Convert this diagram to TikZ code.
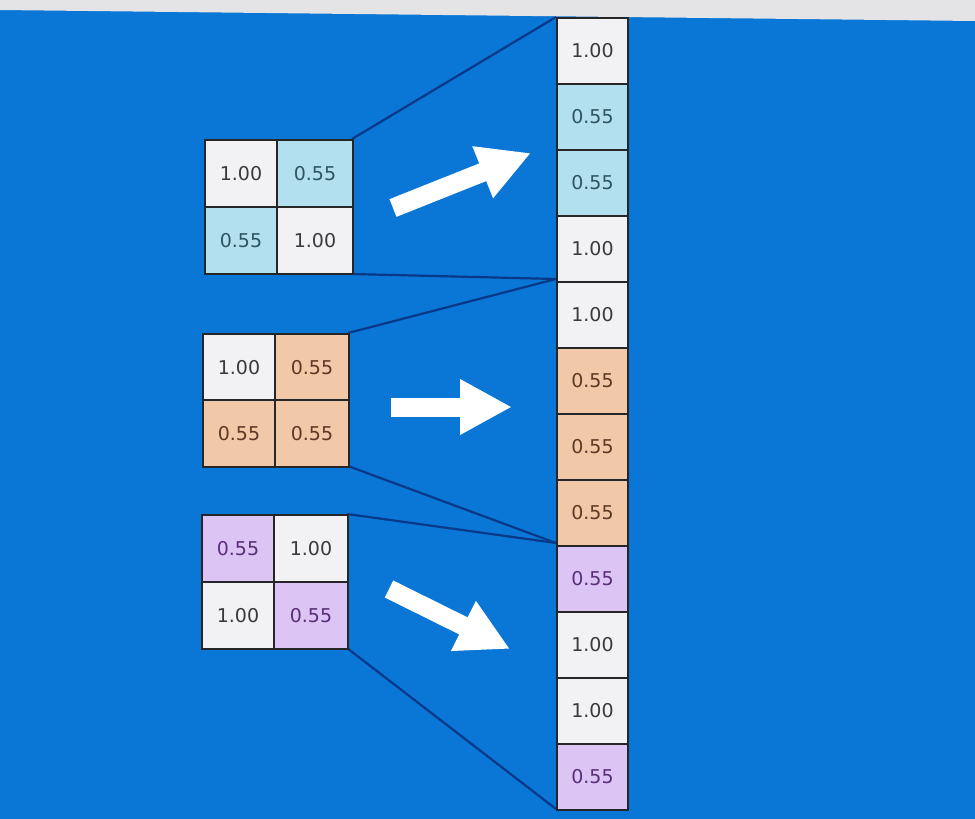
\documentclass[tikz,border=0pt]{standalone}
\usepackage{fontspec}
\setmainfont{DejaVu Sans}
\usetikzlibrary{arrows.meta}
\definecolor{bgblue}{HTML}{0A76D6}
\definecolor{bar}{HTML}{E4E4E6}
\definecolor{cw}{HTML}{F2F2F5}
\definecolor{cb}{HTML}{B2E0EE}
\definecolor{co}{HTML}{F1C8A8}
\definecolor{cp}{HTML}{DCC4F4}
\definecolor{tw}{HTML}{3A3A3A}
\definecolor{tb}{HTML}{2E5560}
\definecolor{to}{HTML}{5C3A25}
\definecolor{tp}{HTML}{5A2E78}
\definecolor{navy}{HTML}{083888}
\tikzset{
  cellbox/.style={draw=black!85, line width=2pt, inner sep=0pt, anchor=north west,
    font=\fontsize{19}{21}\selectfont},
  mcell/.style={cellbox, minimum width=72pt, minimum height=67pt},
  vcell/.style={cellbox, minimum width=71pt, minimum height=66pt},
  wc/.style={fill=cw, text=tw},
  bc/.style={fill=cb, text=tb},
  oc/.style={fill=co, text=to},
  pc/.style={fill=cp, text=tp},
  link/.style={draw=navy, line width=2.2pt},
  bigarrow/.style={draw=white, line width=19pt, -{Triangle[length=52pt,width=52pt]}}
}
\begin{document}
\begin{tikzpicture}[x=1pt,y=-1pt]
\useasboundingbox (0,0) rectangle (975,819);
\fill[bgblue] (0,0) rectangle (975,819);
\fill[bar] (0,0) -- (975,0) -- (975,21) -- (0,10) -- cycle;
% link end points
\coordinate (m1tr) at (352,139);
\coordinate (m1br) at (352,274);
\coordinate (m2tr) at (348,333);
\coordinate (m2br) at (348,466);
\coordinate (m3tr) at (347,514);
\coordinate (m3br) at (347,648);
\coordinate (k0) at (556,17);
\coordinate (k1) at (556,279);
\coordinate (k2) at (556,543);
\coordinate (k3) at (556,809);
\draw[link] (m1tr) -- (k0);
\draw[link] (m1br) -- (k1);
\draw[link] (m2tr) -- (k1);
\draw[link] (m2br) -- (k2);
\draw[link] (m3tr) -- (k2);
\draw[link] (m3br) -- (k3);
% matrix 1
\node[mcell,wc] (a11) at (204,139) {1.00};
\node[mcell,bc,minimum width=76pt] (a12) at (276,139) {0.55};
\node[mcell,bc] (a21) at (204,206) {0.55};
\node[mcell,wc,minimum width=76pt] (a22) at (276,206) {1.00};
% matrix 2
\node[mcell,wc] (b11) at (202,333) {1.00};
\node[mcell,oc,minimum width=74pt] (b12) at (274,333) {0.55};
\node[mcell,oc] (b21) at (202,399) {0.55};
\node[mcell,oc,minimum width=74pt] (b22) at (274,399) {0.55};
% matrix 3
\node[mcell,pc] (c11) at (201,514) {0.55};
\node[mcell,wc,minimum width=74pt] (c12) at (273,514) {1.00};
\node[mcell,wc] (c21) at (201,581) {1.00};
\node[mcell,pc,minimum width=74pt] (c22) at (273,581) {0.55};
% column
\node[vcell,wc] (v1) at (556,17) {1.00};
\node[vcell,bc] (v2) at (556,83) {0.55};
\node[vcell,bc] (v3) at (556,149) {0.55};
\node[vcell,wc] (v4) at (556,215) {1.00};
\node[vcell,wc] (v5) at (556,281) {1.00};
\node[vcell,oc] (v6) at (556,347) {0.55};
\node[vcell,oc] (v7) at (556,413) {0.55};
\node[vcell,oc] (v8) at (556,479) {0.55};
\node[vcell,pc] (v9) at (556,545) {0.55};
\node[vcell,wc] (v10) at (556,611) {1.00};
\node[vcell,wc] (v11) at (556,677) {1.00};
\node[vcell,pc] (v12) at (556,743) {0.55};
% arrows
\coordinate (t1) at (393,208);
\coordinate (h1) at (531,153);
\coordinate (t2) at (391,407);
\coordinate (h2) at (512,407);
\coordinate (t3) at (389,589);
\coordinate (h3) at (510,649);
\draw[bigarrow] (t1) -- (h1);
\draw[bigarrow] (t2) -- (h2);
\draw[bigarrow] (t3) -- (h3);
\end{tikzpicture}
\end{document}
